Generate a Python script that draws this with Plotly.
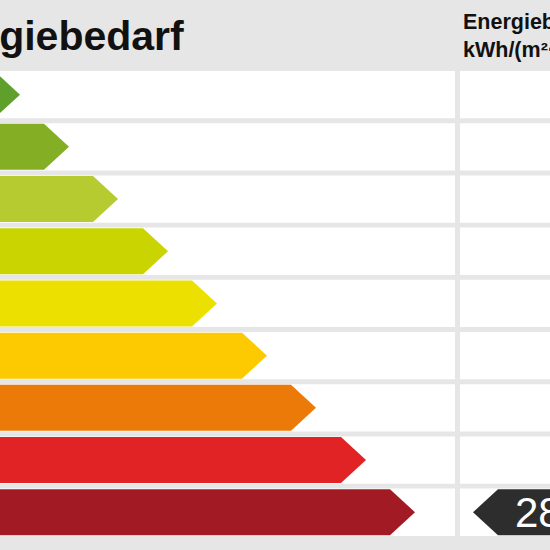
import plotly.graph_objects as go

# energy classes, arrow lengths (px on the x scale) and colours
classes = ["A+", "A", "B", "C", "D", "E", "F", "G", "H"]
arrow_length = [20, 69, 118, 168, 217, 267, 316, 366, 415]
class_colors = ["#5fa02d", "#84ae23", "#b5cb30", "#c9d400", "#ece000",
                "#fdc900", "#ec7a09", "#e12325", "#a21b24"]

title_text = "Energiebedarf"
value_header = ["Energiebedarf", "kWh/(m²·a)"]
value = 283
value_class = "H"

# geometry
W = H = 550
pitch = 52.2          # px per row
row0 = 94.65          # px centre of first row
half_cell = 23.65 / pitch
half_arrow = 23.0 / pitch
point = 25            # px depth of arrow tip


def py(px):
    return 1 - px / H


fig = go.Figure()

# white cells
shapes = []
for i in range(len(classes)):
    shapes.append(dict(type="rect", xref="x", yref="y", x0=-20, x1=455,
                       y0=i - half_cell, y1=i + half_cell,
                       fillcolor="white", line_width=0, layer="below"))
    shapes.append(dict(type="rect", xref="x", yref="y", x0=460, x1=600,
                       y0=i - half_cell, y1=i + half_cell,
                       fillcolor="white", line_width=0, layer="below"))

# class arrows
for i, (c, tip, col) in enumerate(zip(classes, arrow_length, class_colors)):
    xs = [-30, tip - point, tip, tip - point, -30, -30]
    ys = [i - half_arrow, i - half_arrow, i, i + half_arrow, i + half_arrow, i - half_arrow]
    fig.add_trace(go.Scatter(x=xs, y=ys, fill="toself", fillcolor=col,
                             mode="lines", line=dict(width=0, color=col),
                             name=c, hoverinfo="name"))

# value marker (black arrow pointing left)
vi = classes.index(value_class)
vt = 473
fig.add_trace(go.Scatter(
    x=[600, vt + point, vt, vt + point, 600, 600],
    y=[vi - half_arrow, vi - half_arrow, vi, vi + half_arrow, vi + half_arrow, vi - half_arrow],
    fill="toself", fillcolor="#2d2d2d", mode="lines",
    line=dict(width=0, color="#2d2d2d"), hoverinfo="skip"))

annotations = [
    dict(text="<b>%s</b>" % title_text, xref="x", yref="paper", x=186, y=py(36),
         xanchor="right", yanchor="middle", showarrow=False,
         font=dict(family="Liberation Sans, Arial", size=41, color="#111111")),
    dict(text="<b>%s</b>" % value_header[0], xref="x", yref="paper", x=461, y=py(22),
         xanchor="left", yanchor="middle", showarrow=False,
         font=dict(family="Liberation Sans, Arial", size=21.5, color="#111111")),
    dict(text="<b>%s</b>" % value_header[1], xref="x", yref="paper", x=461, y=py(50),
         xanchor="left", yanchor="middle", showarrow=False,
         font=dict(family="Liberation Sans, Arial", size=21.5, color="#111111")),
    dict(text=str(value), xref="x", yref="y", x=513, y=vi,
         xanchor="left", yanchor="middle", showarrow=False,
         font=dict(family="Liberation Sans, Arial", size=42, color="white")),
]

fig.update_layout(
    width=W, height=H, margin=dict(l=0, r=0, t=0, b=0),
    paper_bgcolor="#e6e6e6", plot_bgcolor="#e6e6e6",
    showlegend=False, shapes=shapes, annotations=annotations,
    xaxis=dict(range=[0, W], visible=False, fixedrange=True),
    yaxis=dict(range=[(H - row0) / pitch, -row0 / pitch], visible=False, fixedrange=True),
)

# page body has a default 8px margin; drop it so the chart sits at the corner
fig.write_html("out.html", config={"displayModeBar": False},
               post_script="document.body.style.margin='0';document.body.style.overflow='hidden';")
